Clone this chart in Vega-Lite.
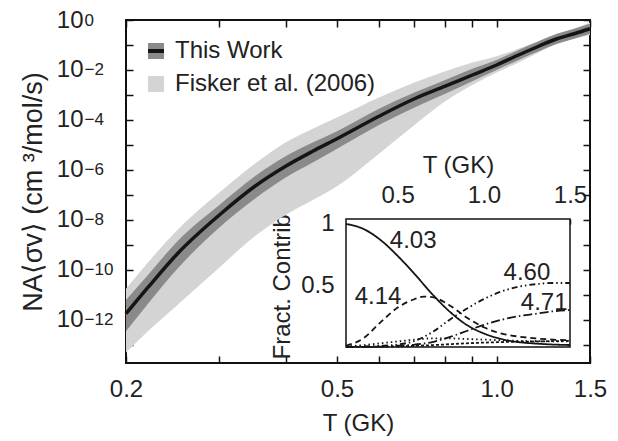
{
  "$schema": "https://vega.github.io/schema/vega-lite/v6.json",
  "width": 464,
  "height": 343,
  "autosize": "none",
  "padding": {"left": 126, "top": 20, "right": 28, "bottom": 78},
  "background": "white",
  "config": {
    "font": "Liberation Sans",
    "view": {"stroke": "#111111", "strokeWidth": 2},
    "axis": {"labelColor": "#222222", "titleColor": "#222222", "tickColor": "#111111", "titleFontWeight": "normal", "labelFontSize": 24, "titleFontSize": 24, "grid": false, "domain": false, "labelFlush": false, "labelOverlap": false, "labelLimit": 400, "titleLimit": 500, "zindex": 1},
    "legend": {"labelColor": "#222222", "labelLimit": 400}
  },
  "datasets": {
    "bands": [
      {"T": 0.2, "series": "This Work", "lo": 3.548e-13, "hi": 6.31e-12},
      {"T": 0.22, "series": "This Work", "lo": 4.467e-12, "hi": 6.31e-11},
      {"T": 0.25, "series": "This Work", "lo": 1.122e-10, "hi": 1.413e-9},
      {"T": 0.3, "series": "This Work", "lo": 5.012e-9, "hi": 3.981e-8},
      {"T": 0.35, "series": "This Work", "lo": 7.079e-8, "hi": 5.623e-7},
      {"T": 0.4, "series": "This Work", "lo": 5.012e-7, "hi": 3.548e-6},
      {"T": 0.45, "series": "This Work", "lo": 1.995e-6, "hi": 1.259e-5},
      {"T": 0.5, "series": "This Work", "lo": 7.079e-6, "hi": 3.548e-5},
      {"T": 0.6, "series": "This Work", "lo": 6.31e-5, "hi": 2.818e-4},
      {"T": 0.7, "series": "This Work", "lo": 3.162e-4, "hi": 1.259e-3},
      {"T": 0.8, "series": "This Work", "lo": 1.122e-3, "hi": 3.981e-3},
      {"T": 0.9, "series": "This Work", "lo": 3.548e-3, "hi": 1.122e-2},
      {"T": 1.0, "series": "This Work", "lo": 1e-2, "hi": 2.512e-2},
      {"T": 1.1, "series": "This Work", "lo": 2.512e-2, "hi": 6.31e-2},
      {"T": 1.2, "series": "This Work", "lo": 5.623e-2, "hi": 0.1413},
      {"T": 1.3, "series": "This Work", "lo": 0.1122, "hi": 0.2818},
      {"T": 1.4, "series": "This Work", "lo": 0.1778, "hi": 0.4467},
      {"T": 1.5, "series": "This Work", "lo": 0.2818, "hi": 0.7079},
      {"T": 0.2, "series": "Fisker et al. (2006)", "lo": 5.012e-14, "hi": 1.778e-11},
      {"T": 0.22, "series": "Fisker et al. (2006)", "lo": 3.548e-13, "hi": 1.995e-10},
      {"T": 0.25, "series": "Fisker et al. (2006)", "lo": 3.981e-12, "hi": 3.981e-9},
      {"T": 0.3, "series": "Fisker et al. (2006)", "lo": 1.259e-10, "hi": 1.259e-7},
      {"T": 0.35, "series": "Fisker et al. (2006)", "lo": 2.239e-9, "hi": 1.778e-6},
      {"T": 0.4, "series": "Fisker et al. (2006)", "lo": 1.585e-8, "hi": 1.259e-5},
      {"T": 0.45, "series": "Fisker et al. (2006)", "lo": 6.31e-8, "hi": 4.467e-5},
      {"T": 0.5, "series": "Fisker et al. (2006)", "lo": 2.239e-7, "hi": 1.259e-4},
      {"T": 0.6, "series": "Fisker et al. (2006)", "lo": 4.467e-6, "hi": 7.943e-4},
      {"T": 0.7, "series": "Fisker et al. (2006)", "lo": 6.31e-5, "hi": 3.162e-3},
      {"T": 0.8, "series": "Fisker et al. (2006)", "lo": 5.623e-4, "hi": 8.913e-3},
      {"T": 0.9, "series": "Fisker et al. (2006)", "lo": 2.512e-3, "hi": 1.995e-2},
      {"T": 1.0, "series": "Fisker et al. (2006)", "lo": 7.943e-3, "hi": 3.548e-2},
      {"T": 1.1, "series": "Fisker et al. (2006)", "lo": 1.995e-2, "hi": 7.079e-2},
      {"T": 1.2, "series": "Fisker et al. (2006)", "lo": 5.012e-2, "hi": 0.1413},
      {"T": 1.3, "series": "Fisker et al. (2006)", "lo": 0.1122, "hi": 0.2818},
      {"T": 1.4, "series": "Fisker et al. (2006)", "lo": 0.1778, "hi": 0.4467},
      {"T": 1.5, "series": "Fisker et al. (2006)", "lo": 0.2512, "hi": 0.7943}
    ],
    "median": [
      {"T": 0.2, "series": "This Work", "rate": 1.778e-12},
      {"T": 0.22, "series": "This Work", "rate": 1.995e-11},
      {"T": 0.25, "series": "This Work", "rate": 4.467e-10},
      {"T": 0.3, "series": "This Work", "rate": 1.585e-8},
      {"T": 0.35, "series": "This Work", "rate": 2.239e-7},
      {"T": 0.4, "series": "This Work", "rate": 1.413e-6},
      {"T": 0.45, "series": "This Work", "rate": 5.623e-6},
      {"T": 0.5, "series": "This Work", "rate": 1.778e-5},
      {"T": 0.6, "series": "This Work", "rate": 1.413e-4},
      {"T": 0.7, "series": "This Work", "rate": 7.079e-4},
      {"T": 0.8, "series": "This Work", "rate": 2.239e-3},
      {"T": 0.9, "series": "This Work", "rate": 6.31e-3},
      {"T": 1.0, "series": "This Work", "rate": 1.585e-2},
      {"T": 1.1, "series": "This Work", "rate": 3.981e-2},
      {"T": 1.2, "series": "This Work", "rate": 8.913e-2},
      {"T": 1.3, "series": "This Work", "rate": 0.1778},
      {"T": 1.4, "series": "This Work", "rate": 0.2818},
      {"T": 1.5, "series": "This Work", "rate": 0.4467}
    ],
    "fractions": [
      {"T": 0.2, "level": "4.03", "f": 1.0},
      {"T": 0.3, "level": "4.03", "f": 0.96},
      {"T": 0.4, "level": "4.03", "f": 0.87},
      {"T": 0.5, "level": "4.03", "f": 0.74},
      {"T": 0.6, "level": "4.03", "f": 0.59},
      {"T": 0.7, "level": "4.03", "f": 0.43},
      {"T": 0.8, "level": "4.03", "f": 0.29},
      {"T": 0.9, "level": "4.03", "f": 0.18},
      {"T": 1.0, "level": "4.03", "f": 0.11},
      {"T": 1.1, "level": "4.03", "f": 0.065},
      {"T": 1.2, "level": "4.03", "f": 0.04},
      {"T": 1.3, "level": "4.03", "f": 0.028},
      {"T": 1.4, "level": "4.03", "f": 0.02},
      {"T": 1.5, "level": "4.03", "f": 0.016},
      {"T": 0.2, "level": "4.14", "f": 0.01},
      {"T": 0.3, "level": "4.14", "f": 0.07},
      {"T": 0.4, "level": "4.14", "f": 0.2},
      {"T": 0.5, "level": "4.14", "f": 0.32},
      {"T": 0.6, "level": "4.14", "f": 0.39},
      {"T": 0.65, "level": "4.14", "f": 0.41},
      {"T": 0.7, "level": "4.14", "f": 0.405},
      {"T": 0.8, "level": "4.14", "f": 0.34},
      {"T": 0.9, "level": "4.14", "f": 0.24},
      {"T": 1.0, "level": "4.14", "f": 0.16},
      {"T": 1.1, "level": "4.14", "f": 0.11},
      {"T": 1.2, "level": "4.14", "f": 0.085},
      {"T": 1.3, "level": "4.14", "f": 0.07},
      {"T": 1.4, "level": "4.14", "f": 0.06},
      {"T": 1.5, "level": "4.14", "f": 0.055},
      {"T": 0.2, "level": "4.60", "f": 0.003},
      {"T": 0.3, "level": "4.60", "f": 0.005},
      {"T": 0.4, "level": "4.60", "f": 0.01},
      {"T": 0.5, "level": "4.60", "f": 0.02},
      {"T": 0.6, "level": "4.60", "f": 0.05},
      {"T": 0.7, "level": "4.60", "f": 0.12},
      {"T": 0.8, "level": "4.60", "f": 0.22},
      {"T": 0.9, "level": "4.60", "f": 0.31},
      {"T": 1.0, "level": "4.60", "f": 0.39},
      {"T": 1.1, "level": "4.60", "f": 0.45},
      {"T": 1.2, "level": "4.60", "f": 0.49},
      {"T": 1.3, "level": "4.60", "f": 0.51},
      {"T": 1.4, "level": "4.60", "f": 0.52},
      {"T": 1.5, "level": "4.60", "f": 0.52},
      {"T": 0.2, "level": "4.71", "f": 0.0},
      {"T": 0.4, "level": "4.71", "f": 0.003},
      {"T": 0.5, "level": "4.71", "f": 0.01},
      {"T": 0.6, "level": "4.71", "f": 0.02},
      {"T": 0.7, "level": "4.71", "f": 0.04},
      {"T": 0.8, "level": "4.71", "f": 0.08},
      {"T": 0.9, "level": "4.71", "f": 0.13},
      {"T": 1.0, "level": "4.71", "f": 0.18},
      {"T": 1.1, "level": "4.71", "f": 0.22},
      {"T": 1.2, "level": "4.71", "f": 0.25},
      {"T": 1.3, "level": "4.71", "f": 0.27},
      {"T": 1.4, "level": "4.71", "f": 0.29},
      {"T": 1.5, "level": "4.71", "f": 0.3},
      {"T": 0.2, "level": "other A", "f": 0.005},
      {"T": 0.3, "level": "other A", "f": 0.015},
      {"T": 0.4, "level": "other A", "f": 0.03},
      {"T": 0.5, "level": "other A", "f": 0.045},
      {"T": 0.6, "level": "other A", "f": 0.06},
      {"T": 0.7, "level": "other A", "f": 0.07},
      {"T": 0.8, "level": "other A", "f": 0.07},
      {"T": 0.9, "level": "other A", "f": 0.065},
      {"T": 1.0, "level": "other A", "f": 0.06},
      {"T": 1.2, "level": "other A", "f": 0.05},
      {"T": 1.5, "level": "other A", "f": 0.045},
      {"T": 0.2, "level": "other B", "f": 0.0},
      {"T": 0.5, "level": "other B", "f": 0.005},
      {"T": 0.7, "level": "other B", "f": 0.015},
      {"T": 0.9, "level": "other B", "f": 0.03},
      {"T": 1.1, "level": "other B", "f": 0.04},
      {"T": 1.3, "level": "other B", "f": 0.045},
      {"T": 1.5, "level": "other B", "f": 0.05}
    ],
    "insetLabels": [
      {"label": "4.03", "T": 0.59, "f": 0.86},
      {"label": "4.14", "T": 0.386, "f": 0.41},
      {"label": "4.60", "T": 1.25, "f": 0.6},
      {"label": "4.71", "T": 1.35, "f": 0.355}
    ]
  },
  "layer": [
    {
      "layer": [
        {
          "data": {"name": "bands"},
          "transform": [{"filter": "datum.series == 'Fisker et al. (2006)'"}],
          "mark": {"type": "area", "interpolate": "monotone"},
          "encoding": {
            "x": {"field": "T", "type": "quantitative",
              "scale": {"type": "log", "domain": [0.2, 1.5], "nice": false},
              "axis": {"orient": "bottom", "values": [0.2, 0.3, 0.4, 0.5, 0.6, 0.7, 0.8, 0.9, 1.0, 1.5],
                "labelExpr": "(datum.value == 0.2 || datum.value == 0.5 || datum.value == 1 || datum.value == 1.5) ? format(datum.value, '.1f') : ''",
                "tickSize": -7, "tickWidth": 1.5, "labelPadding": 21, "title": "T (GK)", "titlePadding": 10}},
            "y": {"field": "lo", "type": "quantitative",
              "scale": {"type": "log", "domain": [1.9e-14, 1], "nice": false},
              "axis": {"orient": "left", "values": [1, 0.1, 0.01, 0.001, 1e-4, 1e-5, 1e-6, 1e-7, 1e-8, 1e-9, 1e-10, 1e-11, 1e-12, 1e-13],
                "labelExpr": "round(-log(datum.value)/LN10) % 2 == 0 ? '10' : ''",
                "labelDy": 4,
                "tickSize": -7, "tickWidth": 1.5, "labelPadding": 50, "title": "NA⟨σv⟩ (cm ³/mol/s)", "titleFontSize": 27, "titlePadding": 9}},
            "y2": {"field": "hi"},
            "color": {"field": "series", "type": "nominal",
              "scale": {"domain": ["This Work", "Fisker et al. (2006)"], "range": ["#8a8a8a", "#d4d4d4"]},
              "legend": {"orient": "none", "legendX": 18, "legendY": 19, "title": null, "symbolType": "square", "symbolSize": 256, "symbolStrokeWidth": 0, "labelFontSize": 24, "labelOffset": 7, "rowPadding": 9, "padding": 0}}
          }
        },
        {
          "data": {"name": "bands"},
          "transform": [{"filter": "datum.series == 'This Work'"}],
          "mark": {"type": "area", "interpolate": "monotone"},
          "encoding": {
            "x": {"field": "T", "type": "quantitative"},
            "y": {"field": "lo", "type": "quantitative"},
            "y2": {"field": "hi"},
            "color": {"field": "series", "type": "nominal"}
          }
        },
        {
          "data": {"name": "median"},
          "mark": {"type": "line", "interpolate": "monotone", "strokeWidth": 3.5},
          "encoding": {
            "x": {"field": "T", "type": "quantitative"},
            "y": {"field": "rate", "type": "quantitative"},
            "stroke": {"field": "series", "type": "nominal",
              "scale": {"domain": ["This Work"], "range": ["#151515"]},
              "legend": {"orient": "none", "legendX": 18, "legendY": 19, "title": null, "symbolType": "stroke", "symbolSize": 256, "symbolStrokeWidth": 4, "labelFontSize": 24, "labelOffset": 7, "labelOpacity": 0, "padding": 0}}
          }
        }
      ]
    },
    {
      "data": {"name": "median"},
      "mark": {"type": "line", "opacity": 0},
      "encoding": {
        "x": {"field": "T", "type": "quantitative",
          "scale": {"type": "log", "domain": [0.2, 1.5], "nice": false},
          "axis": {"orient": "top", "values": [0.2, 0.3, 0.4, 0.5, 0.6, 0.7, 0.8, 0.9, 1.0, 1.5], "labels": false, "tickSize": -7, "tickWidth": 1.5, "title": null}},
        "y": {"field": "rate", "type": "quantitative",
          "scale": {"type": "log", "domain": [1.9e-14, 1], "nice": false},
          "axis": {"orient": "right", "values": [1, 0.1, 0.01, 0.001, 1e-4, 1e-5, 1e-6, 1e-7, 1e-8, 1e-9, 1e-10, 1e-11, 1e-12, 1e-13], "labels": false, "tickSize": -7, "tickWidth": 1.5, "title": null}}
      }
    },
    {
      "data": {"name": "median"},
      "mark": {"type": "line", "opacity": 0},
      "encoding": {
        "x": {"field": "T", "type": "quantitative",
          "scale": {"type": "log", "domain": [0.2, 1.5], "nice": false},
          "axis": null},
        "y": {"field": "rate", "type": "quantitative",
          "scale": {"type": "log", "domain": [1.9e-14, 1], "nice": false},
          "axis": {"orient": "left", "values": [1, 0.01, 1e-4, 1e-6, 1e-8, 1e-10, 1e-12],
            "labelExpr": "format(round(log(datum.value)/LN10), 'd')",
            "labelAlign": "left", "labelFontSize": 17, "labelDy": -7, "ticks": false, "labelPadding": 42, "title": null}}
      }
    },
    {
      "layer": [
        {
          "data": {"values": [{}]},
          "mark": {"type": "rect", "fill": "white", "stroke": "#111111", "strokeWidth": 1.5},
          "encoding": {
            "x": {"datum": 0.2, "type": "quantitative",
              "scale": {"domain": [0.2, 1.5], "range": [220, 444], "nice": false, "zero": false},
              "axis": {"orient": "top", "offset": -199, "values": [0.5, 1.0, 1.5], "format": ".1f", "tickSize": -5, "tickWidth": 1.5, "labelPadding": 17, "title": "T (GK)", "titlePadding": 6, "titleLimit": 300}},
            "x2": {"datum": 1.5},
            "y": {"datum": 0, "type": "quantitative",
              "scale": {"domain": [0, 1.04], "range": [327, 199], "nice": false, "zero": false},
              "axis": {"orient": "left", "offset": -220, "values": [0.5, 1], "labelExpr": "datum.value == 1 ? '1' : '0.5'", "tickSize": -5, "tickWidth": 1.5, "labelPadding": 17, "title": "Fract. Contrib.", "titlePadding": 6, "titleLimit": 300}},
            "y2": {"datum": 1.04}
          }
        },
        {
          "data": {"name": "fractions"},
          "mark": {"type": "line", "interpolate": "monotone", "strokeWidth": 1.8, "color": "#151515"},
          "encoding": {
            "x": {"field": "T", "type": "quantitative"},
            "y": {"field": "f", "type": "quantitative"},
            "strokeDash": {"field": "level", "type": "nominal",
              "scale": {"domain": ["4.03", "4.14", "4.60", "4.71", "other A", "other B"],
                "range": [[1, 0], [6, 4], [6, 3, 1.5, 3, 1.5, 3], [9, 3, 1.5, 3], [1.5, 3], [3, 2]]},
              "legend": null}
          }
        },
        {
          "data": {"name": "insetLabels"},
          "mark": {"type": "text", "fontSize": 24, "color": "#222222", "align": "center", "baseline": "middle"},
          "encoding": {
            "x": {"field": "T", "type": "quantitative"},
            "y": {"field": "f", "type": "quantitative"},
            "text": {"field": "label"}
          }
        }
      ]
    },
    {
      "data": {"name": "fractions"},
      "mark": {"type": "line", "opacity": 0},
      "encoding": {
        "x": {"field": "T", "type": "quantitative",
          "scale": {"domain": [0.2, 1.5], "range": [220, 444], "nice": false, "zero": false},
          "axis": {"orient": "bottom", "offset": -16, "values": [0.5, 1.0], "labels": false, "tickSize": -5, "tickWidth": 1.5, "title": null}},
        "y": {"field": "f", "type": "quantitative",
          "scale": {"domain": [0, 1.04], "range": [327, 199], "nice": false, "zero": false},
          "axis": {"orient": "right", "offset": -20, "values": [0.5, 1], "labels": false, "tickSize": -5, "tickWidth": 1.5, "title": null}}
      }
    }
  ],
  "resolve": {"scale": {"x": "independent", "y": "independent"}}
}
